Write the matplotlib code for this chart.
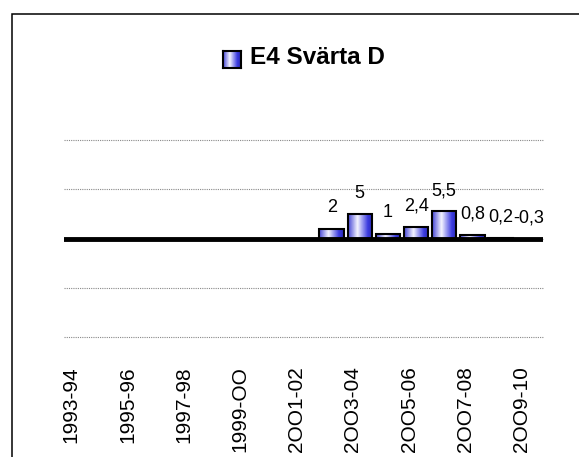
import numpy as np
import matplotlib
matplotlib.use("Agg")
import matplotlib.pyplot as plt
from matplotlib.colors import LinearSegmentedColormap
from matplotlib.patches import Rectangle
from matplotlib.transforms import ScaledTranslation

plt.rcParams["font.family"] = ["Liberation Sans", "DejaVu Sans"]

# ==========================
# DATA
# ==========================
seasons = ["1993-94", "1994-95", "1995-96", "1996-97", "1997-98", "1998-99",
           "1999-OO", "2OOO-01", "2OO1-02", "2OO2-03", "2OO3-04", "2OO4-05",
           "2OO5-06", "2OO6-07", "2OO7-08", "2OO8-09", "2OO9-10"]
values = [0, 0, 0, 0, 0, 0, 0, 0, 0, 2, 5, 1, 2.4, 5.5, 0.8, 0.2, -0.3]
shown = [False] * 9 + [True] * 8
series_name = "E4 Svärta D"

W, H = 579, 457
fig = plt.figure(figsize=(W / 100, H / 100), dpi=100)
ax = fig.add_axes([64.3 / W, 1 - 337 / H, (542.7 - 64.3) / W, (337 - 140) / H])

grad_cmap = LinearSegmentedColormap.from_list(
    "bluebar", [(0.0, "#4646d6"), (0.38, "#f4f4ff"), (0.8, "#3c3ce0"), (1.0, "#2828b4")])
grad = np.linspace(0, 1, 64).reshape(1, -1)

# ==========================
# BARS
# ==========================
x = np.arange(len(seasons))
bars = ax.bar(x, values, width=0.87, facecolor="none", edgecolor="black",
              linewidth=1.5, zorder=3)
for b in bars:
    x0, y0 = b.get_x(), b.get_y()
    im = ax.imshow(grad, cmap=grad_cmap, aspect="auto", zorder=2.5,
                   extent=[x0, x0 + b.get_width(), y0, y0 + b.get_height()])
    im.set_clip_path(b)

for xi, v, s in zip(x, values, shown):
    if not s:
        continue
    ax.annotate(f"{v:g}".replace(".", ","), (xi, max(v, 0)), xytext=(0, 15),
                textcoords="offset points", ha="center", va="center", fontsize=13)

ax.axhline(0, color="black", linewidth=3.5, zorder=4)

ax.set_xlim(-0.5, len(seasons) - 0.5)
ax.set_ylim(-20, 20)
ax.set_yticks([-20, -10, 0, 10, 20])
ax.yaxis.grid(True, linestyle=(0, (1, 1)), color="#888888", linewidth=0.8)
for gl in ax.get_ygridlines():
    gl.set_clip_on(False)
ax.set_axisbelow(True)
ax.tick_params(axis="y", left=False, labelleft=False)
ax.tick_params(axis="x", length=0, pad=21)
ax.set_xticks(x[::2])
ax.set_xticklabels(seasons[::2], rotation=90, fontsize=15, ha="center", va="top")
shift = ScaledTranslation(-7 / 100, 0, fig.dpi_scale_trans)
for lab in ax.get_xticklabels():
    lab.set_transform(lab.get_transform() + shift)
for sp in ax.spines.values():
    sp.set_visible(False)

# legend shown as the title
fig.text(250 / W, 1 - 57 / H, series_name, fontsize=17.5, fontweight="bold",
         ha="left", va="center")
lax = fig.add_axes([223 / W, 1 - 68 / H, 18 / W, 17 / H])
lax.imshow(grad, cmap=grad_cmap, aspect="auto")
lax.set_xticks([])
lax.set_yticks([])
for sp in lax.spines.values():
    sp.set_linewidth(1.5)

# chart border, runs off the right and bottom edges
top = 1 - 14.3 / H
fig.patches.append(Rectangle((12.3 / W, -0.2), 1.2, top + 0.2,
                             transform=fig.transFigure, fill=False,
                             edgecolor="black", linewidth=1.1))

fig.savefig("out.png", dpi=100)
